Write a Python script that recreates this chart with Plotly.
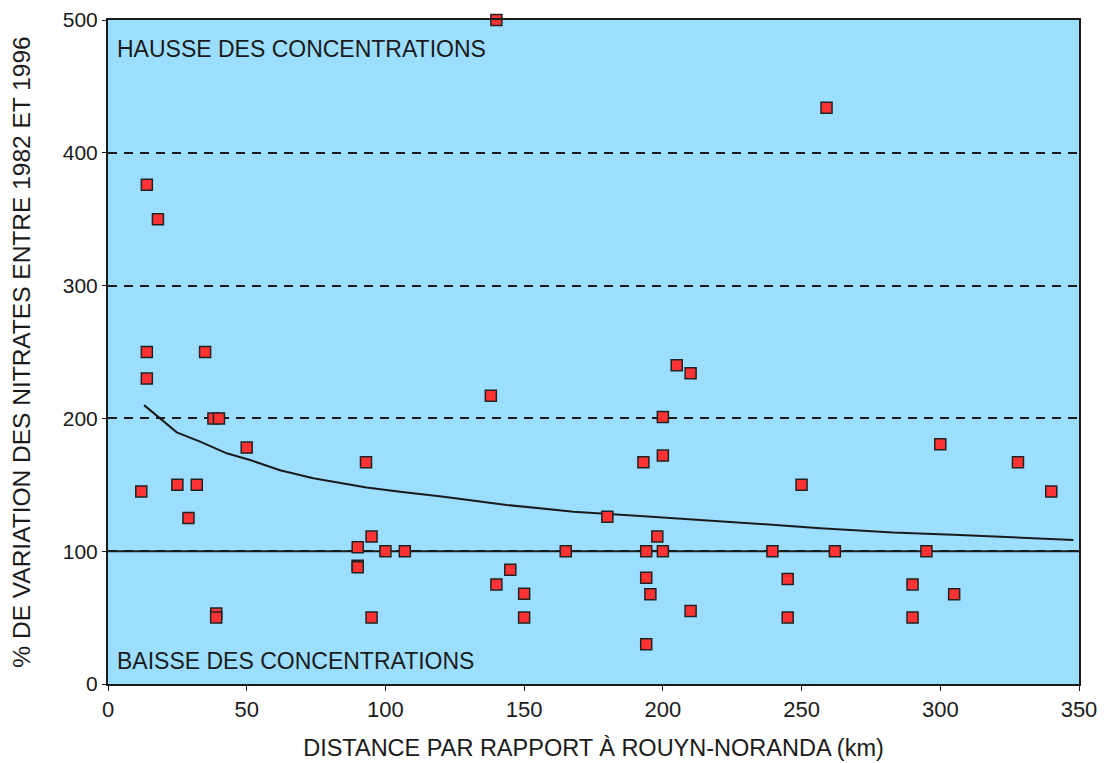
import plotly.graph_objects as go

# Data
distance_km = [14, 18, 14, 14, 12, 25, 32, 29, 35, 38, 40, 50, 39, 39,
               90, 90, 90, 93, 95, 100, 107, 95,
               138, 140, 140, 145, 150, 150, 165, 180,
               193, 194, 194, 195.5, 194, 198, 200, 200, 200, 205, 210, 210,
               239.5, 245, 245, 250, 259, 262, 290, 290, 295, 300, 305, 328, 340]
variation_pct = [376, 350, 250, 230, 145, 150, 150, 125, 250, 200, 200, 178, 53, 50,
                 103, 89, 88, 167, 111, 100, 100, 50,
                 217, 500, 75, 86, 68, 50, 100, 126,
                 167, 100, 80, 67.5, 30, 111, 100, 172, 201, 240, 234, 55,
                 100, 79, 50, 150, 434, 100, 75, 50, 100, 180.5, 67.5, 167, 145]

trend_x = [13, 18.7, 24.8, 33.2, 42.8, 51.2, 62, 74, 93.2, 105.3, 121, 143.7,
           167.8, 191.8, 215.8, 237, 256.7, 283, 307, 331, 348]
trend_y = [210, 200, 189.5, 182.5, 173.7, 168.7, 161, 155, 148, 144.8, 141, 134.8,
           129.8, 126.5, 123.5, 120.3, 117.2, 114, 112.2, 109.7, 108.4]

baseline = 100
x_ticks = [0, 50, 100, 150, 200, 250, 300, 350]
y_ticks = [0, 100, 200, 300, 400, 500]

FONT = "Liberation Sans, Arial"
INK = "#1a1a1a"

fig = go.Figure()

fig.add_trace(go.Scatter(
    x=trend_x, y=trend_y, mode="lines",
    line=dict(color=INK, width=2), hoverinfo="skip", showlegend=False))

fig.add_trace(go.Scatter(
    x=distance_km, y=variation_pct, mode="markers",
    marker=dict(symbol="square", size=11, color="#FF3333",
                line=dict(color="#222222", width=1.5)),
    showlegend=False, cliponaxis=False))

fig.add_hline(y=baseline, line=dict(color=INK, width=2), layer="below")

fig.add_annotation(x=0, y=1, xref="paper", yref="paper", xanchor="left", yanchor="top",
                   xshift=7, yshift=-14, text="HAUSSE DES CONCENTRATIONS", showarrow=False,
                   font=dict(family=FONT, size=23, color=INK))
fig.add_annotation(x=0, y=0, xref="paper", yref="paper", xanchor="left", yanchor="bottom",
                   xshift=7, yshift=8, text="BAISSE DES CONCENTRATIONS", showarrow=False,
                   font=dict(family=FONT, size=23, color=INK))

fig.update_layout(
    width=1110, height=755,
    margin=dict(l=100, r=39, t=12, b=79),
    paper_bgcolor="white", plot_bgcolor="#9CDEFF",
    font=dict(family=FONT, color=INK),
    xaxis=dict(range=[0, 350], tickvals=x_ticks, showgrid=False, zeroline=False,
               automargin=False,
               showline=True, linecolor=INK, linewidth=2, mirror=True,
               ticks="outside", ticklen=5, tickcolor=INK,
               tickfont=dict(family=FONT, size=22),
               title=dict(text="DISTANCE PAR RAPPORT À ROUYN-NORANDA (km)",
                          font=dict(family=FONT, size=23.5),
                          standoff=18)),
    yaxis=dict(range=[0, 500], tickvals=y_ticks, showgrid=True, gridcolor=INK,
               automargin=False,
               gridwidth=2, griddash="9px,7px", zeroline=False,
               showline=True, linecolor=INK, linewidth=2, mirror=True,
               ticks="outside", ticklen=4, tickcolor=INK,
               tickfont=dict(family=FONT, size=21),
               title=dict(text="% DE VARIATION DES NITRATES ENTRE 1982 ET 1996",
                          font=dict(family=FONT, size=24.5),
                          standoff=26)),
)

fig.write_html("out.html")
